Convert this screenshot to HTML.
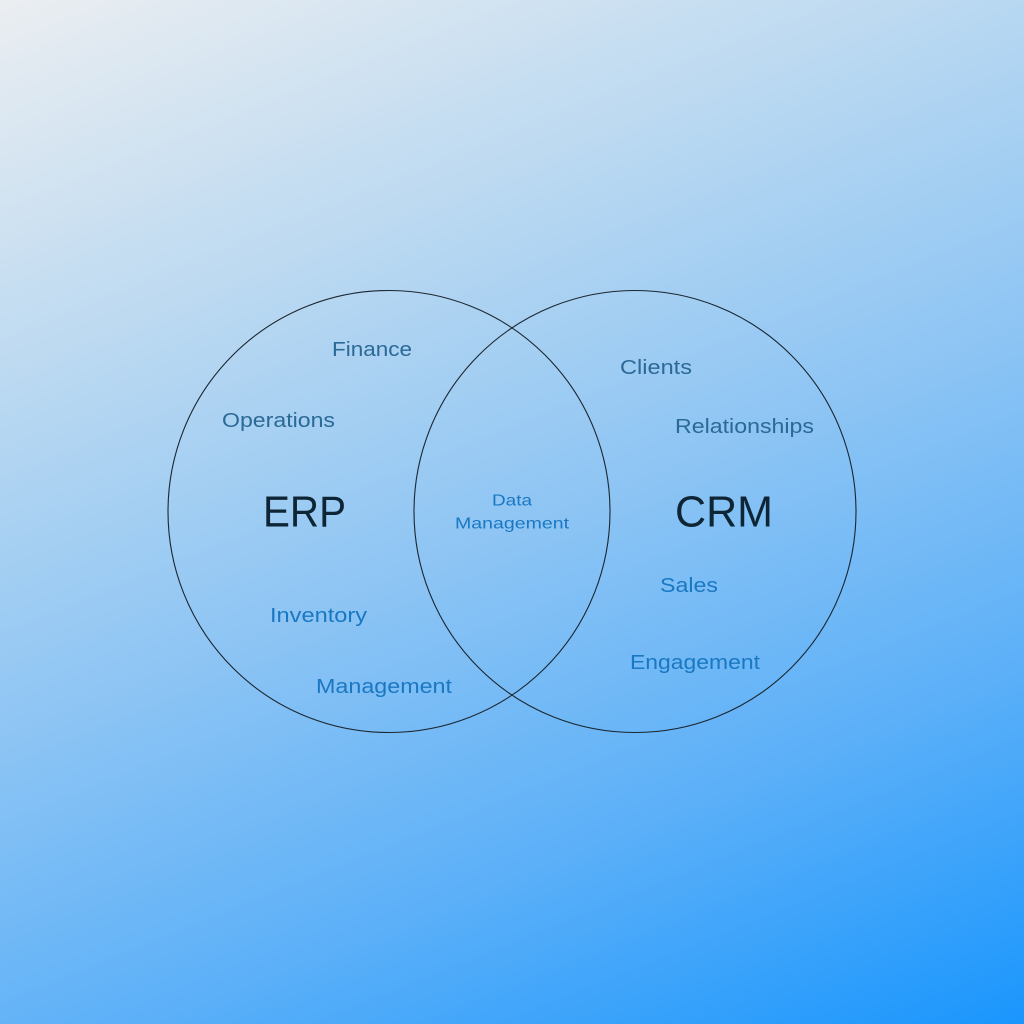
<!DOCTYPE html>
<html><head><meta charset="utf-8"><style>
html,body{margin:0;padding:0;width:1024px;height:1024px;overflow:hidden}
body{background:linear-gradient(158deg,#ebeef1 0%,#b9d8f1 28%,#8cc4f4 52%,#5cb0f8 75%,#1a96fd 100%)}
svg{position:absolute;left:0;top:0}
text{font-family:"Liberation Sans",sans-serif}
</style></head><body>
<svg width="1024" height="1024" viewBox="0 0 1024 1024">
<circle cx="389" cy="511.5" r="221" fill="none" stroke="#1a2630" stroke-width="1.1"/>
<circle cx="635" cy="511.5" r="221" fill="none" stroke="#1a2630" stroke-width="1.1"/>
<g font-size="20" fill="#2b6996" dominant-baseline="central">
<text x="332" y="350" textLength="80" lengthAdjust="spacingAndGlyphs">Finance</text>
<text x="222" y="421" textLength="113" lengthAdjust="spacingAndGlyphs">Operations</text>
<text x="620" y="368" textLength="72" lengthAdjust="spacingAndGlyphs">Clients</text>
<text x="675" y="427" textLength="139" lengthAdjust="spacingAndGlyphs">Relationships</text>
</g>
<g font-size="20" fill="#1a78c2" dominant-baseline="central">
<text x="270" y="616" textLength="97" lengthAdjust="spacingAndGlyphs">Inventory</text>
<text x="316" y="687" textLength="136" lengthAdjust="spacingAndGlyphs">Management</text>
<text x="660" y="586" textLength="58" lengthAdjust="spacingAndGlyphs">Sales</text>
<text x="630" y="663" textLength="130" lengthAdjust="spacingAndGlyphs">Engagement</text>
</g>
<g font-size="16" fill="#1a78c2" dominant-baseline="central" text-anchor="middle">
<text x="512" y="501" textLength="40" lengthAdjust="spacingAndGlyphs">Data</text>
<text x="512" y="524" textLength="114" lengthAdjust="spacingAndGlyphs">Management</text>
</g>
<g font-size="44" fill="#0e2535" dominant-baseline="central">
<text x="263" y="512" textLength="83" lengthAdjust="spacingAndGlyphs">ERP</text>
<text x="675" y="512" textLength="98" lengthAdjust="spacingAndGlyphs">CRM</text>
</g>
</svg>
</body></html>
